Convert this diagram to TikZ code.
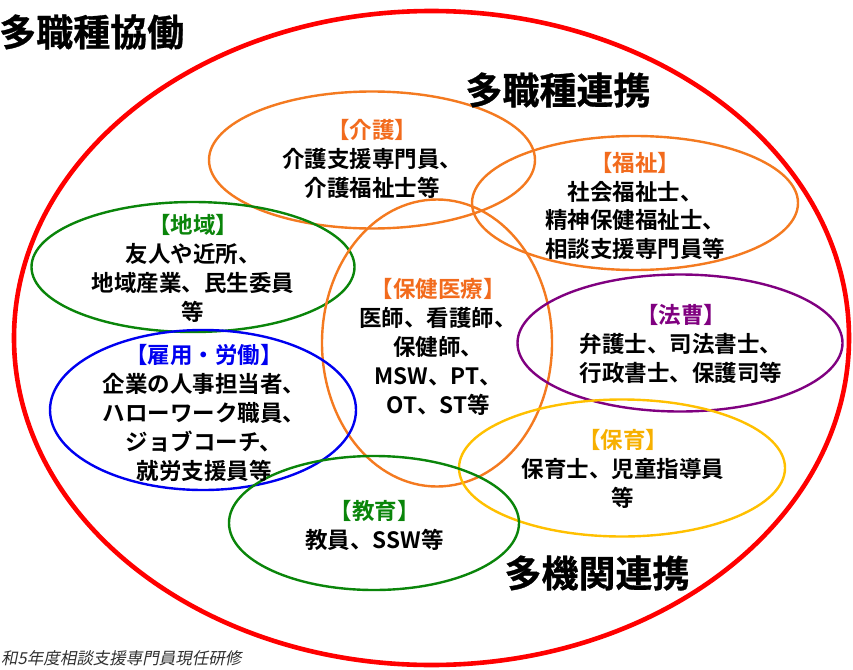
\documentclass[tikz,border=0pt]{standalone}
\usepackage{fontspec}
\setmainfont{Noto Sans CJK JP}[BoldFont={* Bold}]
\newfontfamily\jpslant{Noto Sans CJK JP}[FakeSlant=0.2]
\newfontfamily\jpheavy{Noto Sans CJK JP Bold}[FakeBold=0.8]
\usetikzlibrary{shapes.geometric}
\definecolor{cRed}{HTML}{FF0000}
\definecolor{cOrange}{HTML}{F47A20}
\definecolor{cOrangeT}{HTML}{F26B1D}
\definecolor{cGreen}{HTML}{0A850A}
\definecolor{cBlue}{HTML}{0000F0}
\definecolor{cPurple}{HTML}{800080}
\definecolor{cYellow}{HTML}{FFC000}
\definecolor{cYellowT}{HTML}{F7B000}
\definecolor{cGrey}{HTML}{303030}
\tikzset{
  ring/.style={ellipse, draw, line width=2.4pt, inner sep=0pt, minimum width=#1},
  ringh/.style={minimum height=#1},
  body/.style={align=center, font=\fontsize{22.5}{28.8}\selectfont\bfseries, text=black},
  big/.style={font=\fontsize{37}{42}\selectfont\jpheavy, text=black}
}
\begin{document}
\begin{tikzpicture}[x=1pt,y=-1pt]
\useasboundingbox (0,0) rectangle (853,669);
\fill[white] (0,0) rectangle (853,669);
% outer red ellipse
\node[ring=835pt, ringh=654pt, draw=cRed, line width=4.6pt] (outer) at (431.5,338) {};
% inner ellipses
\node[ring=326pt, ringh=137pt, draw=cOrange] (kaigo) at (372,160) {};
\node[ring=326pt, ringh=134pt, draw=cOrange] (fukushi) at (635,203) {};
\node[ring=323pt, ringh=130pt, draw=cGreen] (chiiki) at (193,267) {};
\node[ring=230pt, ringh=287pt, draw=cOrange] (hoken) at (437,343) {};
\node[ring=325pt, ringh=137pt, draw=cPurple] (hoso) at (680,343) {};
\node[ring=306pt, ringh=160pt, draw=cBlue] (koyo) at (203,410) {};
\node[ring=326pt, ringh=137pt, draw=cYellow] (hoiku) at (622,468) {};
\node[ring=290pt, ringh=134pt, draw=cGreen] (kyoiku) at (374,523) {};
% titles
\node[big, anchor=west, inner sep=0pt] (t1) at (-1,32) {多職種協働};
\node[big, inner sep=0pt] (t2) at (558,90) {多職種連携};
\node[big, inner sep=0pt] (t3) at (597,573) {多機関連携};
% labels
\node[body] (lkaigo) at (372,159) {\textcolor{cOrangeT}{【介護】}\\介護支援専門員、\\介護福祉士等};
\node[body] (lfukushi) at (635,206) {\textcolor{cOrangeT}{【福祉】}\\社会福祉士、\\精神保健福祉士、\\相談支援専門員等};
\node[body] (lchiiki) at (193,268.5) {\textcolor{cGreen}{【地域】}\\友人や近所、\\地域産業、民生委員\\等};
\node[body] (lhoken) at (438,347) {\textcolor{cOrangeT}{【保健医療】}\\医師、看護師、\\保健師、\\MSW、PT、\\OT、ST等};
\node[body] (lhoso) at (681,344) {\textcolor{cPurple}{【法曹】}\\弁護士、司法書士、\\行政書士、保護司等};
\node[body] (lkoyo) at (204,413) {\textcolor{cBlue}{【雇用・労働】}\\企業の人事担当者、\\ハローワーク職員、\\ジョブコーチ、\\就労支援員等};
\node[body] (lhoiku) at (623,469) {\textcolor{cYellowT}{【保育】}\\保育士、児童指導員\\等};
\node[body] (lkyoiku) at (374.5,525.5) {\textcolor{cGreen}{【教育】}\\教員、SSW等};
% footer
\node[anchor=west, inner sep=0pt, text=cGrey, font=\fontsize{16.5}{18}\selectfont\jpslant] (foot) at (1,658) {和5年度相談支援専門員現任研修};
\end{tikzpicture}
\end{document}
